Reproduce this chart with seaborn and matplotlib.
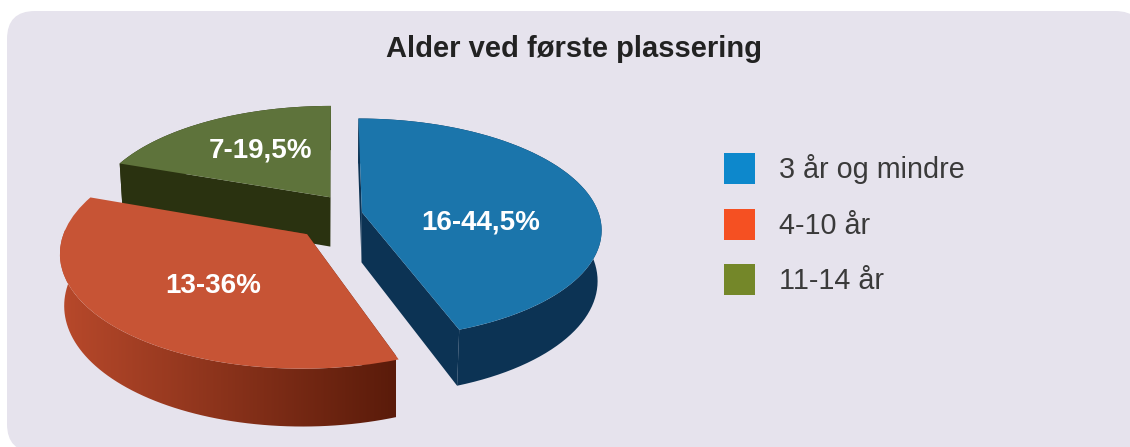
import numpy as np
import matplotlib
matplotlib.use('Agg')
import matplotlib.pyplot as plt
import seaborn as sns

from matplotlib.patches import FancyBboxPatch, Patch, Polygon
from matplotlib.transforms import Transform

# chart values
categories = ['3 år og mindre', '4-10 år', '11-14 år']
counts = [16, 13, 7]
shares = [44.5, 36, 19.5]

top_colors = ['#1B75AB', '#C75435', '#5E733B']
side_colors = ['#0C3354', '#5A1B0A', '#2A3210']
legend_colors = ['#0D88CC', '#F55022', '#748729']
orange_side = ['#B8492B', '#5A1B0A']

# pie floor seen in perspective, everything in pixels
ORIGIN = (335, 215)
RX, RY = 241, 110
TILT = 0.15
DEPTH = 51
SHRINK = 0.015
offsets = [(0.112, 0.025), (-0.113, -0.17), (-0.02, 0.165)]
radii = [0.985, 0.985, 1.0]
label_pos = [(481, 222), (213, 286), (260, 150)]


def project(x, y, z=0.0):
    """Floor coordinates to pixels, z=1 is the underside of the pie."""
    w = 1 + TILT * np.asarray(y) + SHRINK * z
    return ORIGIN[0] + RX * np.asarray(x) / w, ORIGIN[1] + (DEPTH * z - RY * np.asarray(y)) / w


class Perspective(Transform):
    input_dims = 2
    output_dims = 2

    def transform_non_affine(self, values):
        sx, sy = project(values[:, 0], values[:, 1])
        return np.column_stack([sx, sy])


def side_faces(wedge):
    """Outer wall and the two cut walls of one exploded wedge."""
    cx, cy = wedge.center
    angles = np.radians(np.linspace(wedge.theta1, wedge.theta2, 80))
    x, y = cx + wedge.r * np.cos(angles), cy + wedge.r * np.sin(angles)
    faces = [(x, y), ([cx, x[0]], [cy, y[0]]), ([cx, x[-1]], [cy, y[-1]])]
    polys = []
    for fx, fy in faces:
        fx, fy = np.asarray(fx), np.asarray(fy)
        tx, ty = project(fx, fy, 0)
        bx, by = project(fx, fy, 1)
        polys.append(np.column_stack([np.r_[tx, bx[::-1]], np.r_[ty, by[::-1]]]))
    return polys


sns.set_theme(style='white')
plt.rcParams['font.family'] = ['Liberation Sans', 'DejaVu Sans']

fig = plt.figure(figsize=(11.3, 4.47), dpi=100)
ax = fig.add_axes([0, 0, 1, 1])

wedges, _ = ax.pie(shares, startangle=90, counterclock=False, colors=top_colors,
                   wedgeprops={'linewidth': 0})
ax.set_aspect('auto')
ax.set_xlim(0, 1130)
ax.set_ylim(447, 0)
ax.axis('off')

ax.add_patch(FancyBboxPatch((7, 11), 1136, 441, boxstyle='round,pad=0,rounding_size=28',
                            facecolor='#E6E3ED', edgecolor='none', zorder=0))

persp = Perspective()
gradient = np.array(sns.blend_palette(orange_side, n_colors=256))[np.newaxis, :, :]

# green first, then red over it, blue stands alone
for order, i in enumerate([2, 1, 0]):
    wedge = wedges[i]
    wedge.set_center(offsets[i])
    wedge.set_radius(radii[i])
    wedge.set_transform(persp + ax.transData)
    wedge.set_zorder(order * 3 + 3)
    for poly in side_faces(wedge):
        face = Polygon(poly, closed=True, facecolor=side_colors[i], edgecolor='none',
                       zorder=order * 3 + 1)
        ax.add_patch(face)
        if i == 1:
            face.set_visible(False)
            clip = Polygon(poly, closed=True, transform=ax.transData)
            img = ax.imshow(gradient, extent=(60, 396, 430, 230), aspect='auto',
                            zorder=order * 3 + 1)
            img.set_clip_path(clip)

ax.set_aspect('auto')
ax.set_xlim(0, 1130)
ax.set_ylim(447, 0)

for count, share, pos in zip(counts, shares, label_pos):
    share_text = f'{share:g}'.replace('.', ',')
    ax.text(pos[0], pos[1], f'{count}-{share_text}%', color='white', fontsize=20,
            fontweight='bold', ha='center', va='center', zorder=20)

ax.text(574, 49, 'Alder ved første plassering', color='#222222', fontsize=21,
        fontweight='bold', ha='center', va='center', zorder=20)

handles = [Patch(facecolor=c, edgecolor='none') for c in legend_colors]
ax.legend(handles, categories, loc='upper left', bbox_to_anchor=(724, 153),
          bbox_transform=ax.transData, frameon=False, fontsize=20.7, labelcolor='#3A3A3A',
          handlelength=1.08, handleheight=1.28, handletextpad=0.82, labelspacing=0.85,
          borderpad=0, borderaxespad=0)

plt.savefig('out.png', dpi=100)
